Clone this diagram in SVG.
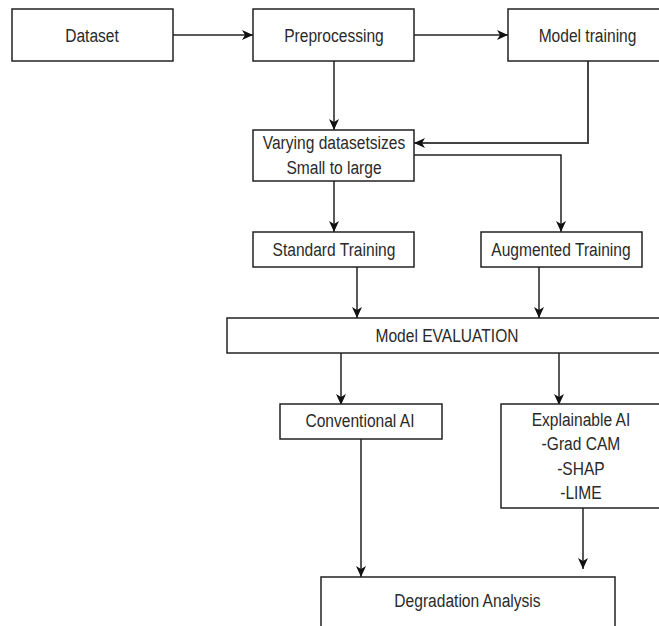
<svg xmlns="http://www.w3.org/2000/svg" width="659" height="626" viewBox="0 0 659 626">
<style>
.box{fill:#fff;stroke:#222;stroke-width:1.5}
.t{font-family:"Liberation Sans",Arial,sans-serif;font-size:19px;fill:#2a2a2a;text-anchor:middle}
.c{fill:none;stroke:#222;stroke-width:1.5}
</style>
<defs>
<marker id="ah" markerWidth="12" markerHeight="12" viewBox="0 0 12 12" refX="11" refY="6" orient="auto" markerUnits="userSpaceOnUse">
<path d="M0,1 L11,6 L0,11 L3,6 Z" fill="#111"/>
</marker>
</defs>
<rect width="659" height="626" fill="#fff"/>
<g id="connectors">
<line class="c" x1="173" y1="35" x2="253" y2="35" marker-end="url(#ah)"/>
<line class="c" x1="414" y1="35" x2="508" y2="35" marker-end="url(#ah)"/>
<line class="c" x1="334" y1="61" x2="334" y2="130" marker-end="url(#ah)"/>
<polyline class="c" points="588,61 588,143 414,143" marker-end="url(#ah)" style="stroke-width:2;stroke:#444"/>
<polyline class="c" points="414,155 561,155 561,232" marker-end="url(#ah)"/>
<line class="c" x1="334" y1="181" x2="334" y2="232" marker-end="url(#ah)"/>
<line class="c" x1="357" y1="267" x2="357" y2="318" marker-end="url(#ah)"/>
<line class="c" x1="539" y1="267" x2="539" y2="318" marker-end="url(#ah)"/>
<line class="c" x1="341" y1="353" x2="341" y2="405" marker-end="url(#ah)"/>
<line class="c" x1="559" y1="353" x2="559" y2="405" marker-end="url(#ah)"/>
<line class="c" x1="361" y1="439" x2="361" y2="577" marker-end="url(#ah)"/>
<line class="c" x1="583" y1="508" x2="583" y2="569" marker-end="url(#ah)"/>
</g>
<g id="dataset"><rect class="box" x="12" y="9" width="161" height="52"/><text class="t" transform="scale(0.82 1)" x="112.2" y="42">Dataset</text></g>
<g id="preprocessing"><rect class="box" x="253" y="9" width="161" height="52"/><text class="t" transform="scale(0.82 1)" x="407.3" y="42">Preprocessing</text></g>
<g id="model-training"><rect class="box" x="508" y="9" width="160" height="52"/><text class="t" transform="scale(0.82 1)" x="716.5" y="42">Model training</text></g>
<g id="varying"><rect class="box" x="253" y="130" width="161" height="51"/><text class="t" transform="scale(0.82 1)" x="407.3" y="149">Varying datasetsizes</text><text class="t" transform="scale(0.82 1)" x="407.3" y="174">Small to large</text></g>
<g id="standard"><rect class="box" x="253" y="232" width="161" height="35"/><text class="t" transform="scale(0.82 1)" x="407.3" y="256">Standard Training</text></g>
<g id="augmented"><rect class="box" x="481" y="232" width="161" height="35"/><text class="t" transform="scale(0.82 1)" x="684.1" y="256">Augmented Training</text></g>
<g id="evaluation"><rect class="box" x="227" y="318" width="440" height="35"/><text class="t" transform="scale(0.82 1)" x="545.1" y="342">Model EVALUATION</text></g>
<g id="conventional"><rect class="box" x="280" y="404" width="162" height="35"/><text class="t" transform="scale(0.82 1)" x="439" y="427">Conventional AI</text></g>
<g id="explainable"><rect class="box" x="501" y="404" width="170" height="104"/><text class="t" transform="scale(0.82 1)" x="708.5" y="426">Explainable AI</text><text class="t" transform="scale(0.82 1)" x="708.5" y="450">-Grad CAM</text><text class="t" transform="scale(0.82 1)" x="708.5" y="475">-SHAP</text><text class="t" transform="scale(0.82 1)" x="708.5" y="499">-LIME</text></g>
<g id="degradation"><rect class="box" x="321" y="577" width="294" height="60"/><text class="t" transform="scale(0.82 1)" x="570.1" y="607">Degradation Analysis</text></g>
</svg>
